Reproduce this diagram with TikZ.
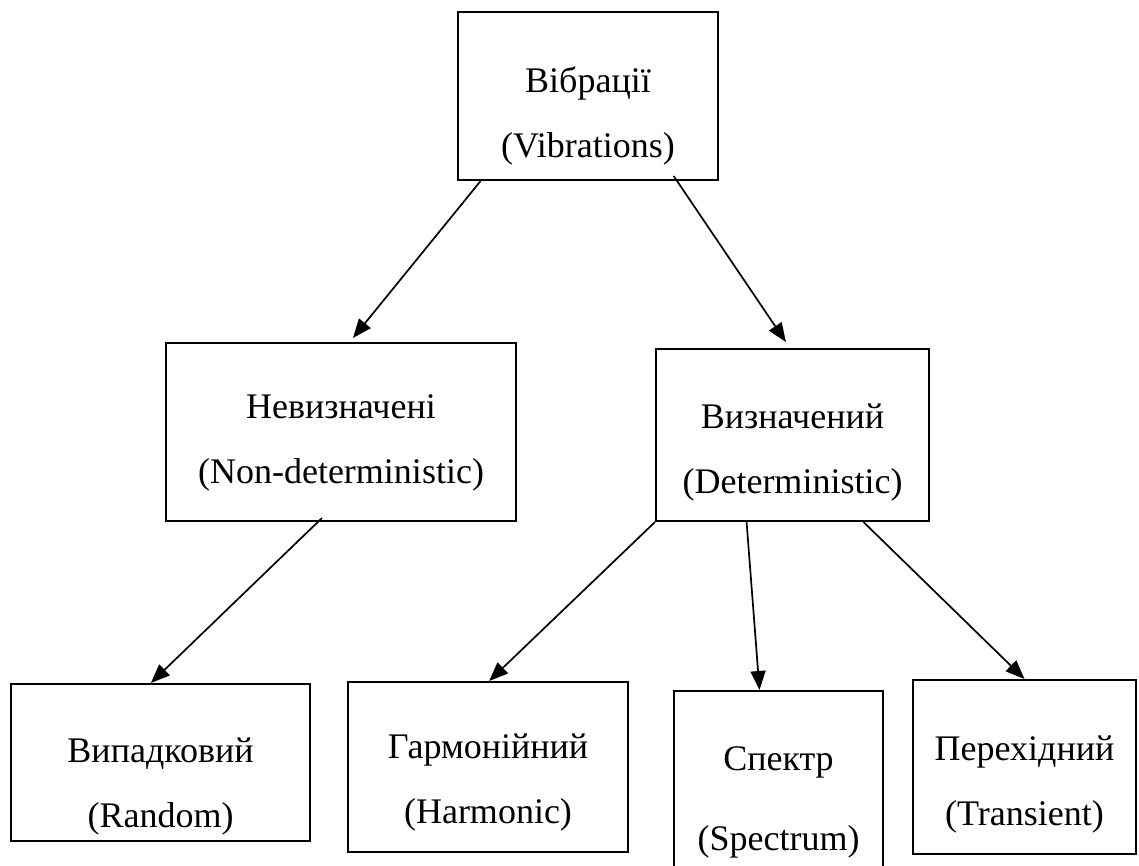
\documentclass[tikz,border=0pt]{standalone}
\usepackage{fontspec}
\setmainfont{Liberation Serif}
\usepackage{tikz}
\usetikzlibrary{calc,arrows.meta}

\begin{document}
\begin{tikzpicture}[x=1pt,y=-1pt,
  box/.style={draw, line width=2pt, align=center, inner sep=0pt,
              font=\fontsize{36}{65}\selectfont, text depth=0pt},
  >={Triangle[length=19pt,width=15pt]}]
\useasboundingbox (0,0) rectangle (1139,865);
% top level
\node[box, minimum width=260pt, minimum height=168pt, text height=122pt]
  (vib) at (588,96) {Вібрації\\(Vibrations)};
% second level
\node[box, minimum width=350pt, minimum height=178pt, text height=102pt]
  (nondet) at (341,432) {Невизначені\\(Non-deterministic)};
\node[box, minimum width=273pt, minimum height=172pt, text height=116pt]
  (det) at (792.5,435) {Визначений\\(Deterministic)};
% third level
\node[box, minimum width=299pt, minimum height=157pt, text height=130pt]
  (rnd) at (160.5,762.5) {Випадковий\\(Random)};
\node[box, minimum width=280pt, minimum height=170pt, text height=112pt]
  (harm) at (488,767) {Гармонійний\\(Harmonic)};
\node[box, minimum width=209pt, minimum height=177pt, text height=141pt,
      font=\fontsize{36}{80}\selectfont]
  (spec) at (778.5,779.5) {Спектр\\(Spectrum)};
\node[box, minimum width=223pt, minimum height=174pt, text height=116pt]
  (trans) at (1024.5,767) {Перехідний\\(Transient)};
% arrows
\begin{scope}[line width=1.7pt]
\draw[->] ($(vib.south west)!0.09!(vib.south east)$)
  -- ($(nondet.north west)!0.534!(nondet.north east)+(0,-4)$);
\draw[->] ($(vib.south west)!0.827!(vib.south east)+(0,-5)$)
  -- ($(det.north west)!0.476!(det.north east)+(0,-6)$);
\draw[->] ($(nondet.south west)!0.446!(nondet.south east)+(0,-4)$)
  -- ($(rnd.north west)!0.468!(rnd.north east)$);
\draw[->] (det.south west) -- ($(harm.north west)!0.504!(harm.north east)$);
\draw[->] ($(det.south west)!0.333!(det.south east)$)
  -- ($(spec.north west)!0.41!(spec.north east)$);
\draw[->] ($(det.south west)!0.758!(det.south east)$) -- (trans.north);
\end{scope}
\end{tikzpicture}
\end{document}
